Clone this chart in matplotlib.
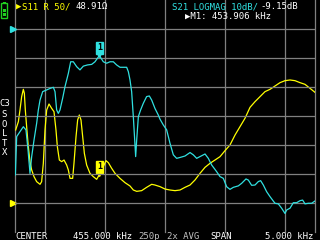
import matplotlib
matplotlib.use('Agg')
import matplotlib.pyplot as plt
from matplotlib.patches import Rectangle
from matplotlib.transforms import offset_copy

plt.rcParams['font.family'] = ['DejaVu Sans Mono', 'DejaVu Sans']

# S21 logmag trace (kHz, dB)
s21_freq = [452.506, 452.528, 452.583, 452.639, 452.683, 452.717, 452.75, 452.778, 452.817, 452.861,
            452.889, 452.917, 452.961, 453.028, 453.083, 453.139, 453.167, 453.194, 453.222, 453.25,
            453.294, 453.333, 453.389, 453.428, 453.472, 453.528, 453.583, 453.639, 453.706, 453.778,
            453.833, 453.906, 453.972, 454.028, 454.083, 454.139, 454.194, 454.25, 454.361, 454.389,
            454.417, 454.444, 454.472, 454.5, 454.511, 454.528, 454.556, 454.594, 454.639, 454.694,
            454.739, 454.778, 454.833, 454.889, 454.917, 454.972, 455.028, 455.083, 455.139, 455.194,
            455.25, 455.333, 455.417, 455.472, 455.528, 455.583, 455.667, 455.722, 455.778, 455.861,
            455.917, 455.972, 456.028, 456.083, 456.139, 456.222, 456.278, 456.35, 456.389, 456.444,
            456.5, 456.556, 456.594, 456.639, 456.694, 456.75, 456.833, 456.889, 456.944, 457.0,
            457.028, 457.083, 457.139, 457.194, 457.25, 457.294, 457.333, 457.389, 457.444, 457.5]
s21_db = [-50.3, -37.1, -35.4, -33.7, -34.8, -41.7, -49.8, -44.0, -38.3, -32.5,
          -27.9, -24.5, -21.6, -21.0, -20.5, -20.1, -21.6, -27.9, -29.1, -27.9,
          -23.9, -19.9, -15.3, -11.3, -11.3, -13.0, -14.1, -12.8, -12.4, -12.2,
          -11.3, -9.15, -11.3, -11.8, -11.3, -11.3, -12.4, -13.2, -13.2, -14.7,
          -17.6, -21.6, -30.2, -40.0, -44.0, -38.3, -30.2, -27.9, -25.6, -23.3,
          -23.1, -24.5, -27.4, -29.7, -31.1, -33.1, -34.8, -39.4, -43.4, -44.6,
          -44.3, -43.8, -42.6, -43.4, -44.6, -44.0, -43.1, -44.6, -46.9, -49.2,
          -50.9, -51.5, -54.4, -55.3, -54.6, -54.1, -53.2, -51.7, -52.1, -53.9,
          -53.8, -52.6, -52.3, -53.8, -56.1, -57.8, -60.1, -60.3, -61.8, -63.6,
          -62.4, -61.8, -59.9, -59.9, -59.2, -59.0, -60.3, -60.1, -60.1, -59.3]

# S11 resistance trace (kHz, ohm)
s11_freq = [452.511, 452.556, 452.583, 452.611, 452.639, 452.656, 452.672, 452.694, 452.722, 452.75,
            452.778, 452.817, 452.861, 452.917, 452.944, 452.972, 453.0, 453.028, 453.067, 453.111,
            453.15, 453.183, 453.206, 453.239, 453.278, 453.317, 453.361, 453.389, 453.417, 453.461,
            453.483, 453.517, 453.544, 453.572, 453.6, 453.628, 453.656, 453.694, 453.75, 453.806,
            453.861, 453.906, 453.972, 454.017, 454.056, 454.111, 454.167, 454.25, 454.333, 454.417,
            454.472, 454.528, 454.611, 454.694, 454.778, 454.833, 454.917, 455.0, 455.083, 455.167,
            455.25, 455.333, 455.417, 455.5, 455.583, 455.667, 455.75, 455.833, 455.917, 456.0,
            456.083, 456.167, 456.25, 456.333, 456.417, 456.5, 456.583, 456.667, 456.75, 456.833,
            456.917, 457.0, 457.083, 457.167, 457.25, 457.333, 457.417, 457.5]
s11_r = [125.9, 140.2, 160.3, 183.3, 196.0, 189.1, 160.3, 131.6, 97.1, 71.3,
         56.9, 45.4, 36.8, 32.2, 36.8, 68.4, 125.9, 160.3, 170.7, 163.2,
         157.5, 125.9, 97.1, 74.1, 71.3, 74.1, 65.5, 56.9, 42.5, 42.5,
         68.4, 114.4, 143.1, 151.7, 143.1, 114.4, 85.6, 65.5, 51.1, 45.4,
         40.8, 48.91, 62.6, 73.0, 69.5, 59.8, 51.1, 42.5, 35.1, 29.3,
         22.4, 20.1, 21.3, 27.0, 32.2, 31.0, 28.2, 24.1, 22.4, 21.3,
         22.4, 27.0, 31.0, 39.7, 51.1, 61.5, 68.4, 74.1, 79.9, 90.2,
         100.0, 117.2, 131.6, 146.0, 164.9, 174.7, 183.3, 192.0, 196.0, 201.7,
         207.5, 210.9, 212.1, 210.9, 207.5, 204.6, 197.7, 190.8]

marker_freq = 453.906
marker_db = -9.15
marker_r = 48.91

cyan = '#30e0e0'
yellow = '#ffff00'
grid_c = '#808080'

fig = plt.figure(figsize=(3.2, 2.4), dpi=100, facecolor='black')
ax2 = fig.add_axes([15 / 320, 8 / 240, 300 / 320, 232 / 240])
ax = ax2.twinx()
for a in (ax, ax2):
    a.set_xlim(452.5, 457.5)
    a.axis('off')
ax2.set_facecolor('black')
ax.set_ylim(-70, 10)
ax2.set_ylim(-50, 350)

# grid
for f in [452.5, 453, 454, 455, 456, 457, 457.5]:
    ax2.axvline(f, color=grid_c, lw=0.9, clip_on=False)
for d in range(0, -70, -10):
    ax.axhline(d, color=grid_c, lw=0.9)

# traces
ax2.plot(s11_freq, s11_r, color=yellow, lw=0.9)
ax.plot(s21_freq, s21_db, color=cyan, lw=0.9)

# reference position arrows
ax.plot([452.46], [0], marker='>', color=cyan, ms=4, clip_on=False)
ax2.plot([452.46], [0], marker='>', color=yellow, ms=4, clip_on=False)

# marker tags
for a, val, col in ((ax, marker_db, cyan), (ax2, marker_r, yellow)):
    tr = offset_copy(a.transData, fig=fig, x=0, y=2, units='dots')
    a.plot([marker_freq], [val], marker='v', color=col, ms=4, transform=tr)
    a.annotate('1', xy=(marker_freq, val), xytext=(0, 5.5), textcoords='offset points',
               ha='center', va='center', color='black', fontsize=6, fontweight='bold',
               bbox=dict(boxstyle='square,pad=0.15', fc=col, ec=col))


def px(x, y):
    return x / 320, 1 - y / 240


fs = 6.5
fig.text(*px(15.5, 6.5), '▶', color=yellow, fontsize=6.5, va='center')
fig.text(*px(22, 6.5), 'S11 R 50/', color=yellow, fontsize=fs, va='center')
fig.text(*px(76, 6.5), '48.91Ω', color='white', fontsize=fs, va='center')
fig.text(*px(172, 6.5), 'S21 LOGMAG 10dB/', color=cyan, fontsize=fs, va='center')
fig.text(*px(260, 6.5), '-9.15dB', color='white', fontsize=fs, va='center')
fig.text(*px(185, 16.5), '▶M1: 453.906 kHz', color='white', fontsize=fs, va='center')

fig.text(*px(15, 236.5), 'CENTER', color='white', fontsize=fs, va='center')
fig.text(*px(73, 236.5), '455.000 kHz', color='white', fontsize=fs, va='center')
fig.text(*px(138, 236.5), '250p', color='#c0c0c0', fontsize=fs, va='center')
fig.text(*px(167, 236.5), '2x AVG', color='#c0c0c0', fontsize=fs, va='center')
fig.text(*px(210, 236.5), 'SPAN', color='white', fontsize=fs, va='center')
fig.text(*px(265, 236.5), '5.000 kHz', color='white', fontsize=fs, va='center')

for lbl, y in [('C3', 104), ('S', 114.5), ('O', 124), ('L', 134), ('T', 143.5), ('X', 152.5)]:
    fig.text(*px(4.5, y), lbl, color='white', fontsize=fs, ha='center', va='center')

# battery icon
green = '#20d020'
fig.add_artist(Rectangle(px(1.2, 18), 6 / 320, 14.5 / 240, transform=fig.transFigure,
                         fill=False, ec=green, lw=1.0))
fig.add_artist(Rectangle(px(3, 3.5), 2.5 / 320, 1.5 / 240, transform=fig.transFigure,
                         fc=green, ec='none'))
for yb in (12, 16):
    fig.add_artist(Rectangle(px(2.6, yb), 3.2 / 320, 3 / 240, transform=fig.transFigure,
                             fc=green, ec='none'))

fig.savefig('out.png', dpi=100, facecolor='black')
